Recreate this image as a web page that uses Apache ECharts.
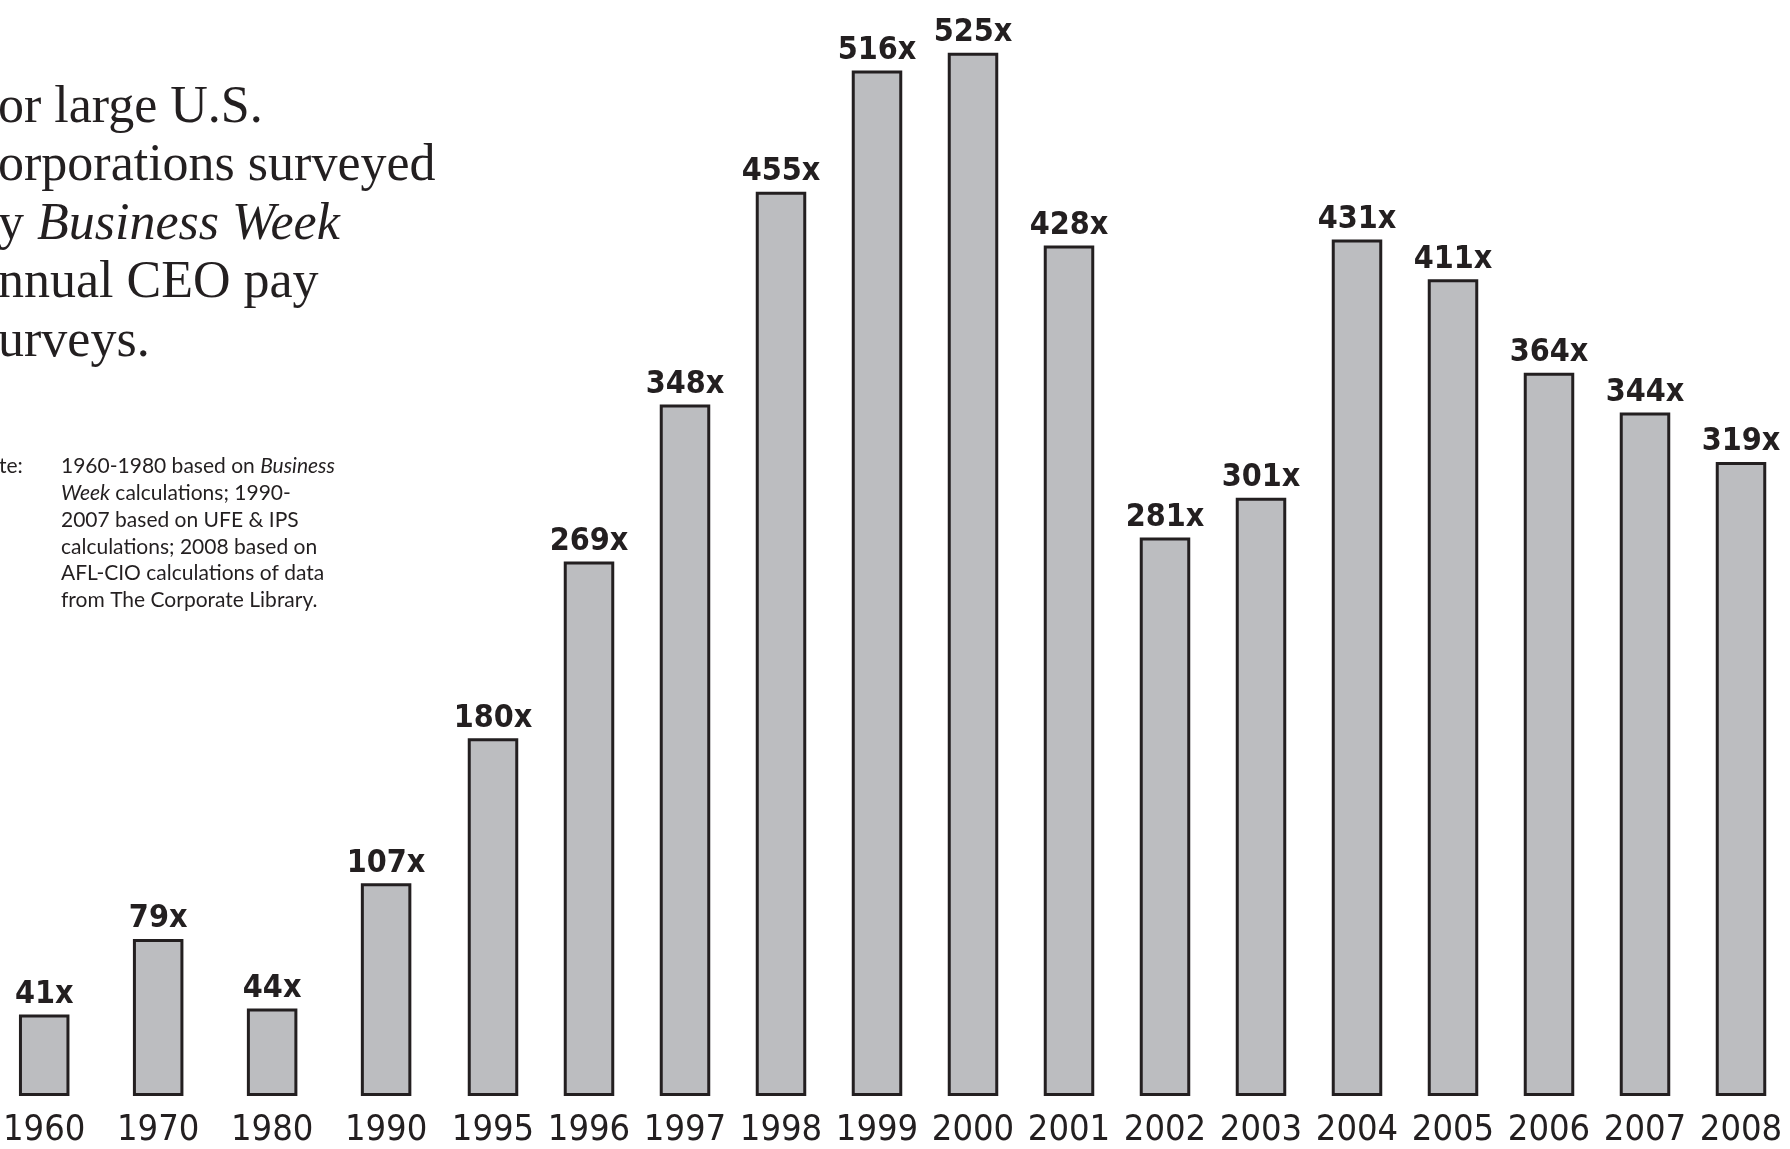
<!DOCTYPE html>
<html>
<head>
<meta charset="utf-8">
<script src="https://cdn.jsdelivr.net/npm/echarts@6/dist/echarts.min.js"></script>
<style>
html,body{margin:0;padding:0;background:#fff;}
#c{width:1790px;height:1149px;}
</style>
</head>
<body>
<div id="c"></div>
<script>
// Data
var years = ['1960','1970','1980','1990','1995','1996','1997','1998','1999','2000','2001','2002','2003','2004','2005','2006','2007','2008'];
var ratios = [41,79,44,107,180,269,348,455,516,525,428,281,301,431,411,364,344,319];
var splitIndex = 4; // decade bars vs. annual bars
var titleLines = ['or large U.S.', 'orporations surveyed', '{r|y }{i|Business Week}', 'nnual CEO pay', 'urveys.'];
var noteLabel = 'te:';
var noteLines = ['1960-1980 based on {i|Business}', '{i|Week} calculations; 1990-', '2007 based on UFE & IPS', 'calculations; 2008 based on', 'AFL-CIO calculations of data', 'from The Corporate Library.'];

var narrow = "'Liberation Sans Narrow', 'DejaVu Sans Condensed', 'Roboto', sans-serif";
var serif = "'Liberation Serif', 'DejaVu Serif', serif";
var sans = "'Lato', 'Open Sans', 'Noto Sans', sans-serif";
var ink = '#231f20';

var chart = echarts.init(document.getElementById('c'), null, {renderer: 'canvas'});

function barSeries(idx, data) {
  return {
    type: 'bar',
    xAxisIndex: idx,
    yAxisIndex: idx,
    data: data,
    barWidth: 50.5,
    clip: false,
    itemStyle: {color: '#bcbdc0', borderColor: ink, borderWidth: 3},
    label: {
      show: true,
      position: 'top',
      distance: 4,
      formatter: '{c}x',
      fontFamily: narrow,
      fontWeight: 'bold',
      fontSize: 32,
      color: ink
    },
    silent: true,
    animation: false
  };
}

function xAx(idx, cats) {
  return {
    type: 'category',
    gridIndex: idx,
    data: cats,
    boundaryGap: false,
    axisLine: {show: false},
    axisTick: {show: false},
    axisLabel: {fontFamily: narrow, fontSize: 36, color: ink, margin: 17, interval: 0}
  };
}
function yAx(idx) {
  return {type: 'value', gridIndex: idx, min: 0, max: 550, show: false, splitLine: {show: false}};
}

var graphics = [];
titleLines.forEach(function (t, i) {
  graphics.push({
    type: 'text', left: -2, top: 82 + i * 58.6,
    style: {
      text: t, font: '52px ' + serif, fill: ink,
      rich: {
        r: {fontFamily: serif, fontSize: 52, fill: ink},
        i: {fontFamily: serif, fontSize: 52, fontStyle: 'italic', fill: ink}
      }
    },
    silent: true
  });
});
graphics.push({
  type: 'text', left: -1, top: 456,
  style: {text: noteLabel, font: '21px ' + sans, fill: ink}, silent: true
});
noteLines.forEach(function (t, i) {
  graphics.push({
    type: 'text', left: 61, top: 456 + i * 26.8,
    style: {
      text: t, font: '21px ' + sans, fill: ink,
      rich: {i: {fontFamily: sans, fontSize: 21, fontStyle: 'italic', fill: ink}}
    },
    silent: true
  });
});

chart.setOption({
  animation: false,
  backgroundColor: '#ffffff',
  grid: [
    {left: 42.6, width: 343.5, top: 3, bottom: 49},
    {left: 493, width: 1248, top: 3, bottom: 49}
  ],
  xAxis: [xAx(0, years.slice(0, splitIndex)), xAx(1, years.slice(splitIndex))],
  yAxis: [yAx(0), yAx(1)],
  series: [barSeries(0, ratios.slice(0, splitIndex)), barSeries(1, ratios.slice(splitIndex))],
  graphic: graphics
});
</script>
</body>
</html>
